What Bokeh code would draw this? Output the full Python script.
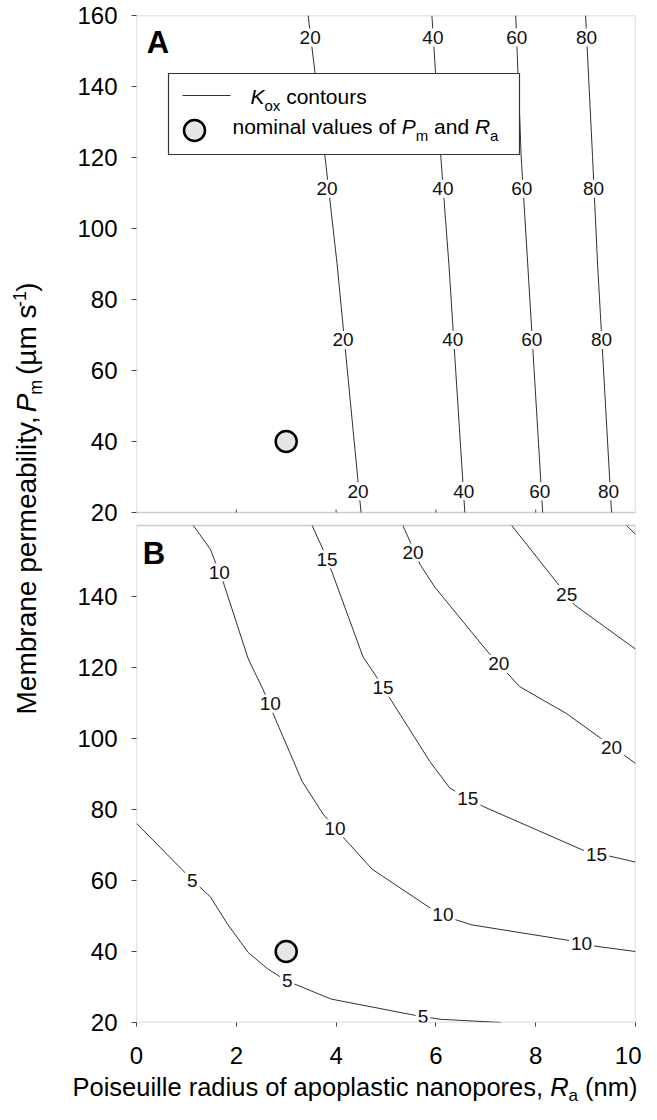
import math
from bokeh.plotting import figure
from bokeh.layouts import column, row
from bokeh.models import Range1d, FixedTicker, BoxAnnotation, CustomJSTickFormatter
from bokeh.embed import file_html
from bokeh.resources import INLINE
from bokeh.core.properties import value

# ---------------- data ----------------
X_TICKS = [0, 2, 4, 6, 8, 10]
Y_TICKS_A = [20, 40, 60, 80, 100, 120, 140, 160]
Y_TICKS_B = [20, 40, 60, 80, 100, 120, 140]

NOMINAL_RA = [3.0]
NOMINAL_PM = [40.0]

# Panel A: Kox contours 20, 40, 60, 80
A_PM = [160, 120, 90, 20]
A_K20_RA = [3.44, 3.78, 4.02, 4.50]
A_K40_RA = [5.92, 6.10, 6.26, 6.58]
A_K60_RA = [7.60, 7.71, 7.84, 8.14]
A_K80_RA = [9.00, 9.14, 9.24, 9.52]
A_LAB_TEXT = ["20", "40", "60", "80", "20", "40", "60", "80",
              "20", "40", "60", "80", "20", "40", "60", "80"]
A_LAB_RA = [3.48, 5.94, 7.62, 9.02, 3.82, 6.14, 7.72, 9.16,
            4.14, 6.34, 7.92, 9.32, 4.44, 6.56, 8.08, 9.46]
A_LAB_PM = [153.8, 153.8, 153.8, 153.8, 111.2, 111.2, 111.2, 111.2,
            68.6, 68.6, 68.6, 68.6, 26.0, 26.0, 26.0, 26.0]

# Panel B: Kox contours 5 ... 30
B_K5_RA = [0.00, 1.12, 1.48, 1.82, 2.24, 2.62, 3.00, 3.90, 5.70, 6.10, 7.30]
B_K5_PM = [76.1, 60.1, 55.4, 47.8, 39.7, 35.2, 31.8, 26.6, 21.7, 20.9, 20.0]
B_K10_RA = [1.14, 1.48, 1.74, 2.24, 2.54, 2.78, 3.15, 3.32, 3.74, 4.18, 4.72,
            5.88, 6.34, 6.72, 8.72, 9.14, 10.0]
B_K10_PM = [160, 153.3, 144.0, 122.4, 113.7, 105.6, 93.5, 87.9, 78.7, 71.6, 63.2,
            52.3, 49.2, 47.5, 43.0, 41.6, 40.0]
B_K15_RA = [3.52, 3.72, 3.92, 4.54, 4.78, 5.12, 5.88, 6.28, 6.94, 8.94, 10.0]
B_K15_PM = [160, 153.8, 146.8, 123.0, 118.0, 110.4, 93.5, 86.0, 80.9, 68.6, 65.2]
B_K20_RA = [5.34, 5.68, 5.98, 7.04, 7.68, 8.62, 10.0]
B_K20_PM = [160, 149.1, 142.6, 124.4, 114.6, 107.0, 93.0]
B_K25_RA = [7.52, 8.42, 8.78, 10.0]
B_K25_PM = [160, 144.0, 137.6, 125.2]
B_K30_RA = [9.82, 10.0]
B_K30_PM = [160, 157.5]
B_LAB_TEXT = ["5", "5", "5", "10", "10", "10", "10", "10",
              "15", "15", "15", "15", "20", "20", "20", "25"]
B_LAB_RA = [1.12, 3.02, 5.74, 1.66, 2.68, 3.98, 6.14, 8.92,
            3.82, 4.94, 6.64, 9.22, 5.54, 7.26, 9.52, 8.62]
B_LAB_PM = [60.1, 31.8, 21.7, 146.8, 109.8, 74.7, 50.3, 42.2,
            150.5, 114.3, 83.1, 67.4, 152.4, 121.0, 97.4, 140.7]

# ---------------- layout ----------------
FONT = "Liberation Sans"
TOTAL_W, TOTAL_H = 641, 1104
YT_W = 50                      # strip holding the y-axis title
MAIN_W = TOTAL_W - YT_W
MAIN_H = 1072
XT_H = TOTAL_H - MAIN_H        # strip holding the x-axis title
FRAME_LEFT, FRAME_TOP = 136, 15
BL, BT = FRAME_LEFT - YT_W, FRAME_TOP
PANEL_PX, GAP_PX = 497, 13
FRAME_W = 499
BR = MAIN_W - BL - FRAME_W
BB = MAIN_H - BT - (2 * PANEL_PX + GAP_PX)
X_LO, X_HI = 0, 10
P_LO, P_HI = 20, 160
UPP = (P_HI - P_LO) / PANEL_PX
PX_X = FRAME_W / (X_HI - X_LO)
OFF = (PANEL_PX + GAP_PX) * UPP
MID = 0.3465                   # em distance from baseline to text middle

p = figure(width=MAIN_W, height=MAIN_H, x_range=Range1d(X_LO, X_HI),
           y_range=Range1d(P_LO, P_HI + OFF),
           output_backend="svg", toolbar_location=None,
           min_border_left=BL, min_border_right=BR,
           min_border_top=BT, min_border_bottom=BB)
p.extra_y_ranges = {"A": Range1d(P_LO - OFF, P_HI)}
p.grid.visible = False
p.outline_line_color = None

TICK_COLOR = "#444444"
xa = p.xaxis[0]
xa.ticker = FixedTicker(ticks=X_TICKS)
xa.axis_line_color = None
xa.major_tick_out = 4
xa.major_tick_in = 0
xa.major_tick_line_color = TICK_COLOR
xa.minor_tick_line_color = None
xa.major_label_text_font = FONT
xa.major_label_text_font_size = "24px"
xa.major_label_text_color = "black"
xa.major_label_standoff = 20

ya = p.yaxis[0]
ya.ticker = FixedTicker(ticks=Y_TICKS_B + [t + OFF for t in Y_TICKS_A])
ya.formatter = CustomJSTickFormatter(
    args=dict(off=OFF, split=P_HI + GAP_PX * UPP / 2),
    code="return String(Math.round(tick > split ? tick - off : tick));")
ya.axis_line_color = None
ya.major_tick_out = 5
ya.major_tick_in = 0
ya.major_tick_line_color = TICK_COLOR
ya.minor_tick_line_color = None
ya.major_label_text_font = FONT
ya.major_label_text_font_size = "24px"
ya.major_label_text_color = "black"
ya.major_label_standoff = 14

LINE_COLOR = "#1a1a1a"
LINE_W = 0.9
LAB_SIZE = 19

W_ARIAL = {' ': 278, '(': 333, ')': 333, ',': 278, '-': 333, '.': 278, 'µ': 576,
           'A': 667, 'B': 667, 'K': 667, 'M': 833, 'P': 667, 'R': 722,
           'a': 556, 'b': 556, 'c': 500, 'd': 556, 'e': 556, 'f': 278, 'g': 556,
           'h': 556, 'i': 222, 'l': 222, 'm': 833, 'n': 556, 'o': 556, 'p': 556,
           'r': 333, 's': 500, 't': 278, 'u': 556, 'v': 500, 'x': 500, 'y': 500}


def tw(s, size):
    return sum(W_ARIAL.get(c, 556) for c in s) * size / 1000.0


# panel A contours
p.multi_line(xs=[A_K20_RA, A_K40_RA, A_K60_RA, A_K80_RA],
             ys=[A_PM, A_PM, A_PM, A_PM],
             line_color=LINE_COLOR, line_width=LINE_W, y_range_name="A")
# panel B contours
p.multi_line(xs=[B_K5_RA, B_K10_RA, B_K15_RA, B_K20_RA, B_K25_RA, B_K30_RA],
             ys=[B_K5_PM, B_K10_PM, B_K15_PM, B_K20_PM, B_K25_PM, B_K30_PM],
             line_color=LINE_COLOR, line_width=LINE_W)

# contour labels: white gap in the line, then the number
for txt, xs, ys, rng in [(A_LAB_TEXT, A_LAB_RA, A_LAB_PM, "A"),
                         (B_LAB_TEXT, B_LAB_RA, B_LAB_PM, "default")]:
    p.rect(x=xs, y=ys, width=[tw(t, LAB_SIZE) + 4 for t in txt], height=18,
           width_units="screen", height_units="screen",
           fill_color="white", line_color=None, y_range_name=rng)
    p.text(x=xs, y=ys, text=txt, text_align="center", text_baseline="middle",
           text_font=value(FONT), text_font_size=value(f"{LAB_SIZE}px"),
           text_color="#111111", y_range_name=rng)

# panel A inward x ticks on its bottom edge
inner = X_TICKS[1:-1]
p.segment(x0=inner, x1=inner, y0=[P_LO for _ in inner],
          y1=[P_LO + 3 * UPP for _ in inner],
          line_color=TICK_COLOR, line_width=1, y_range_name="A")

# nominal point
MARK = dict(size=21, marker="circle", fill_color="#e6e6e6",
            line_color="black", line_width=2.5)
p.scatter(x=NOMINAL_RA, y=NOMINAL_PM, y_range_name="A", **MARK)
p.scatter(x=NOMINAL_RA, y=NOMINAL_PM, **MARK)


def fx(px):
    return X_LO + px / PX_X


def fy(px):
    # px measured downward from the top of a panel
    return P_HI - px * UPP


def compose(fig, pieces, x0, y0, ux, uy, rotated=False, rng="default"):
    """Lay text pieces end to end from a baseline start point.
    ux/uy: data units per pixel (x to the right, y upward)."""
    pos = 0.0
    for text, size, shift, style in pieces:
        lead = len(text) - len(text.lstrip(" "))
        shown = text.strip(" ")
        if shown:
            centre = pos + tw(" " * lead, size) + tw(shown, size) / 2
            lift = MID * size - shift          # from baseline to text middle
            if rotated:
                x, y, ang = x0 - lift * ux, y0 + centre * uy, math.pi / 2
            else:
                x, y, ang = x0 + centre * ux, y0 + lift * uy, 0.0
            fig.text(x=[x], y=[y], text=[shown], angle=ang,
                     text_font=value(FONT), text_font_size=value(f"{size}px"),
                     text_font_style=value(style), text_align="center",
                     text_baseline="middle", text_color="black",
                     y_range_name=rng)
        pos += tw(text, size)
    return pos


# legend (panel A)
p.quad(left=fx(32), right=fx(383), top=fy(58), bottom=fy(139),
       fill_color="white", line_color="#333333", line_width=1.2, y_range_name="A")
p.line(x=[fx(46), fx(94)], y=[fy(80), fy(80)], line_color=LINE_COLOR,
       line_width=LINE_W, y_range_name="A")
p.scatter(x=[fx(58)], y=[fy(115)], y_range_name="A", **MARK)
compose(p, [("K", 21, 0, "italic"), ("ox", 15, 6, "normal"), (" contours", 21, 0, "normal")],
        fx(114), fy(88.7), 1 / PX_X, UPP, rng="A")
compose(p, [("nominal values of ", 21, 0, "normal"), ("P", 21, 0, "italic"),
            ("m", 15, 6, "normal"), (" and ", 21, 0, "normal"), ("R", 21, 0, "italic"),
            ("a", 15, 6, "normal")], fx(96), fy(118.7), 1 / PX_X, UPP, rng="A")

# panel letters
compose(p, [("A", 31, 0, "bold")], fx(11), fy(38), 1 / PX_X, UPP, rng="A")
compose(p, [("B", 31, 0, "bold")], fx(7), fy(39), 1 / PX_X, UPP)

# panel frames
for rng in ["A", "default"]:
    p.add_layout(BoxAnnotation(left=X_LO, right=X_HI, bottom=P_LO, top=P_HI,
                               fill_color=None, line_color="#555555",
                               line_width=1.4, y_range_name=rng))


def strip_fig(w, h):
    f = figure(width=w, height=h, x_range=Range1d(0, w), y_range=Range1d(h, 0),
               output_backend="svg", toolbar_location=None,
               x_axis_location=None, y_axis_location=None, min_border=0)
    f.grid.visible = False
    f.outline_line_color = None
    return f


# y-axis title (rotated), drawn in a strip left of the plot
yfig = strip_fig(YT_W, MAIN_H)
ypieces = [("Membrane permeability, ", 28, 0, "normal"), ("  ", 10, 0, "normal"),
           ("P", 28, 0, "italic"), ("m", 18, 6, "normal"), (" (µm s", 28, 0, "normal"),
           ("-1", 18, -11, "normal"), (")", 28, 0, "normal")]
ytotal = sum(tw(t, s) for t, s, _, _ in ypieces)
compose(yfig, ypieces, 36, 510 + ytotal / 2, 1, -1, rotated=True)

# x-axis title, drawn in a strip below the plot
xfig = strip_fig(TOTAL_W, XT_H)
compose(xfig, [("Poiseuille radius of apoplastic nanopores, ", 25.5, 0, "normal"),
               ("R", 25.5, 0, "italic"), ("a", 17, 6, "normal"),
               (" (nm)", 25.5, 0, "normal")], 72, 1095 - MAIN_H, 1, -1)

layout = column(row(yfig, p, spacing=0), xfig, spacing=0)
open("out.html", "w").write(file_html(layout, INLINE))
